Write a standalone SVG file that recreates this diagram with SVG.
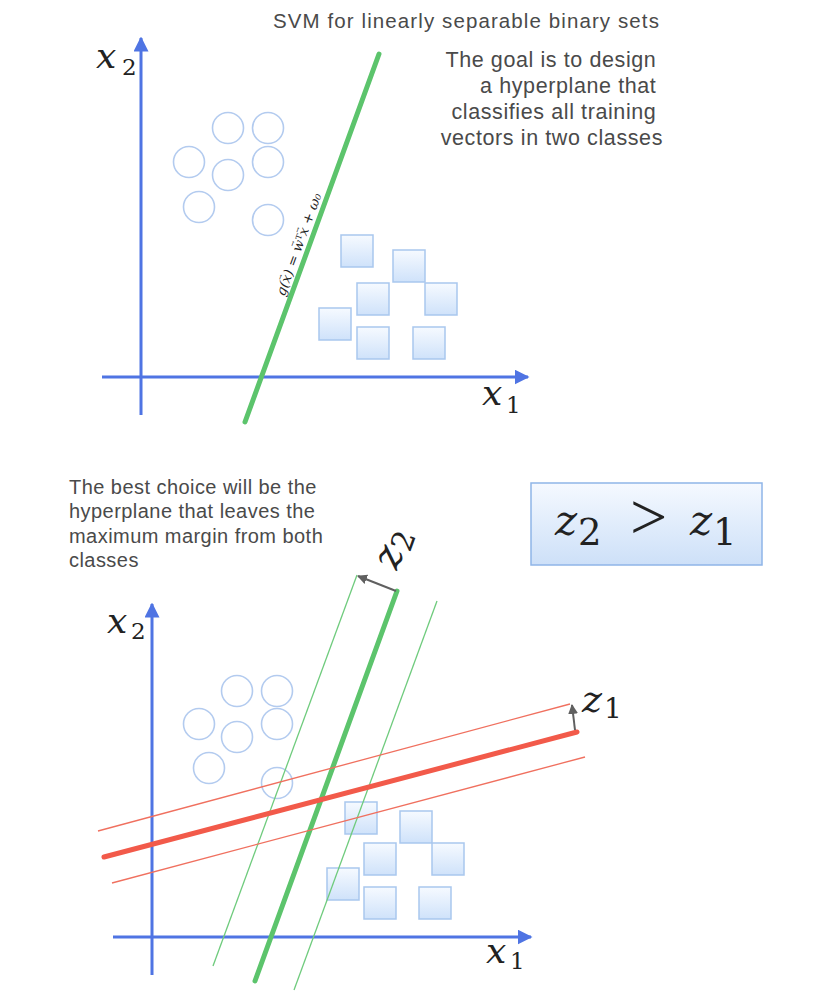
<svg xmlns="http://www.w3.org/2000/svg" width="833" height="994" viewBox="0 0 833 994">
<defs>
<linearGradient id="sq" x1="0" y1="0" x2="0" y2="1">
<stop offset="0" stop-color="#f6faff"/>
<stop offset="1" stop-color="#cfe2fa"/>
</linearGradient>
<linearGradient id="box" x1="0" y1="0" x2="0" y2="1">
<stop offset="0" stop-color="#f5f9ff"/>
<stop offset="1" stop-color="#cde0f8"/>
</linearGradient>
<marker id="ax" viewBox="0 0 10 10" refX="9" refY="5" markerWidth="5" markerHeight="5" markerUnits="strokeWidth" orient="auto">
<path d="M0,0 L10,5 L0,10 z" fill="#4f74e3"/>
</marker>
<marker id="gr" viewBox="0 0 10 10" refX="9" refY="5" markerWidth="5" markerHeight="5" markerUnits="strokeWidth" orient="auto">
<path d="M0,0 L10,5 L0,10 z" fill="#606060"/>
</marker>
</defs>
<style>
.axis{stroke:#4f74e3;stroke-width:3;fill:none}
.c{fill:none;stroke:#b3cbef;stroke-width:1.6}
.s{fill:url(#sq);stroke:#a9c7ee;stroke-width:1.5}
.gT{stroke:#5cc46c;stroke-width:5;fill:none;stroke-linecap:round}
.gt{stroke:#6fcb7d;stroke-width:1.3;fill:none}
.rT{stroke:#f25a4a;stroke-width:5;fill:none;stroke-linecap:round}
.rt{stroke:#f0705f;stroke-width:1.3;fill:none}
.ar{stroke:#606060;stroke-width:2;fill:none}
.txt{font-family:"Liberation Sans",Arial,sans-serif;fill:#4a4a4a}
.m{font-family:"DejaVu Serif","Liberation Serif",serif;fill:#222}
.i{font-style:italic}
.n{font-style:normal}
</style>
<rect width="833" height="994" fill="#ffffff"/>

<g id="texts">
<text class="txt" x="660" y="28" font-size="20.5" letter-spacing="1.1" text-anchor="end">SVM for linearly separable binary sets</text>
<text class="txt" font-size="21.5" letter-spacing="0.6" text-anchor="end">
<tspan x="663" y="67">The goal is to design</tspan>
<tspan x="663" y="93">a hyperplane that</tspan>
<tspan x="663" y="119">classifies all training</tspan>
<tspan x="663" y="145">vectors in two classes</tspan>
</text>
<text class="txt" font-size="20" letter-spacing="0.45">
<tspan x="69" y="494">The best choice will be the</tspan>
<tspan x="69" y="518">hyperplane that leaves the</tspan>
<tspan x="69" y="543">maximum margin from both</tspan>
<tspan x="69" y="567">classes</tspan>
</text>
</g>

<g id="top-plot">
<line class="axis" x1="141" y1="415" x2="141" y2="38" marker-end="url(#ax)"/>
<line class="axis" x1="102" y1="377" x2="528" y2="377" marker-end="url(#ax)"/>
<text class="m i" font-size="36" x="96" y="68">x</text>
<text class="m" font-size="23" x="122" y="75">2</text>
<text class="m i" font-size="36" x="482" y="405">x</text>
<text class="m" font-size="23" x="506" y="413">1</text>
<g id="top-circles">
<circle class="c" cx="228" cy="128" r="15.5"/>
<circle class="c" cx="268" cy="128" r="15.5"/>
<circle class="c" cx="189" cy="162" r="15.5"/>
<circle class="c" cx="228" cy="175" r="15.5"/>
<circle class="c" cx="268" cy="162" r="15.5"/>
<circle class="c" cx="199" cy="207" r="15.5"/>
<circle class="c" cx="268" cy="220" r="15.5"/>
</g>
<g id="top-squares">
<rect class="s" x="341" y="235" width="32" height="32"/>
<rect class="s" x="393" y="250" width="32" height="32"/>
<rect class="s" x="357" y="283" width="32" height="32"/>
<rect class="s" x="425" y="283" width="32" height="32"/>
<rect class="s" x="319" y="308" width="32" height="32"/>
<rect class="s" x="357" y="327" width="32" height="32"/>
<rect class="s" x="413" y="327" width="32" height="32"/>
</g>
<line class="gT" x1="245" y1="422" x2="379" y2="54"/>
<text class="m i" font-size="13.5" text-anchor="middle" transform="translate(303,246) rotate(-70)">g(x<tspan class="n" font-size="6.8" dx="-7.1" dy="-8.4">→</tspan><tspan dx="1.5" dy="8.4">) = w</tspan><tspan class="n" font-size="6.8" dx="-8.4" dy="-8.4">→</tspan><tspan class="n" dx="2.8" dy="8.4">ᵀ</tspan>x<tspan class="n" font-size="6.8" dx="-7.1" dy="-8.4">→</tspan><tspan dx="1.5" dy="8.4"> + ω₀</tspan></text>
</g>

<g id="box">
<rect x="531" y="483" width="231" height="82" fill="url(#box)" stroke="#8fb5e8" stroke-width="1.5"/>
<text class="m i" font-size="42" x="555" y="535">z</text>
<text class="m" font-size="37" x="578" y="545">2</text>
<text font-family="Liberation Serif, serif" fill="#222" font-size="66" x="630" y="539">&gt;</text>
<text class="m i" font-size="42" x="690" y="535">z</text>
<text class="m" font-size="37" x="713" y="545">1</text>
</g>

<g id="bottom-plot">
<line class="axis" x1="152" y1="975" x2="152" y2="604" marker-end="url(#ax)"/>
<line class="axis" x1="113" y1="937" x2="531" y2="937" marker-end="url(#ax)"/>
<text class="m i" font-size="36" x="107" y="633">x</text>
<text class="m" font-size="23" x="131" y="639">2</text>
<text class="m i" font-size="36" x="486" y="963">x</text>
<text class="m" font-size="23" x="510" y="969">1</text>
<g id="bottom-circles">
<circle class="c" cx="237" cy="691" r="15.5"/>
<circle class="c" cx="277" cy="691" r="15.5"/>
<circle class="c" cx="199" cy="724" r="15.5"/>
<circle class="c" cx="237" cy="737" r="15.5"/>
<circle class="c" cx="277" cy="724" r="15.5"/>
<circle class="c" cx="209" cy="768" r="15.5"/>
<circle class="c" cx="277" cy="783" r="15.5"/>
</g>
<g id="bottom-squares">
<rect class="s" x="345" y="802" width="32" height="32"/>
<rect class="s" x="400" y="811" width="32" height="32"/>
<rect class="s" x="364" y="843" width="32" height="32"/>
<rect class="s" x="432" y="843" width="32" height="32"/>
<rect class="s" x="327" y="868" width="32" height="32"/>
<rect class="s" x="364" y="887" width="32" height="32"/>
<rect class="s" x="419" y="887" width="32" height="32"/>
</g>
</g>

<g id="connectors">
<line class="gt" x1="213" y1="966" x2="357" y2="575"/>
<line class="gt" x1="294" y1="990" x2="437" y2="601"/>
<line class="gT" x1="255" y1="981" x2="397" y2="591"/>
<line class="rt" x1="98" y1="831" x2="570" y2="704"/>
<line class="rt" x1="112" y1="883" x2="585" y2="757"/>
<line class="rT" x1="104" y1="857" x2="577" y2="732"/>
<line class="ar" x1="396" y1="591" x2="358" y2="576" marker-end="url(#gr)"/>
<line class="ar" x1="575" y1="730" x2="572" y2="705" marker-end="url(#gr)"/>
<text class="m i" font-size="40" transform="translate(397,571) rotate(-70)">z<tspan class="n" font-size="30" dy="6">2</tspan></text>
<text class="m i" font-size="38" x="582" y="712">z<tspan class="n" font-size="28" dx="2" dy="6">1</tspan></text>
</g>
</svg>
